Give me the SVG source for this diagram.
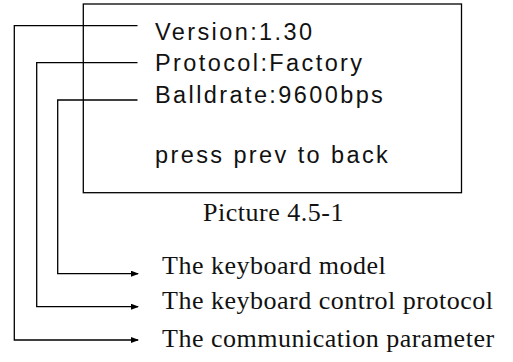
<svg xmlns="http://www.w3.org/2000/svg" width="513" height="362" viewBox="0 0 513 362">
<style>
.ln{fill:none;stroke:#000;stroke-width:1.3}
.sans{font-family:"Liberation Sans",Arial,sans-serif;font-size:23.5px;letter-spacing:2.4px;fill:#111}
.serif{font-family:"Liberation Serif","Times New Roman",serif;font-size:26px;letter-spacing:0.5px;fill:#111}
</style>
<defs>
<marker id="ah" markerWidth="8" markerHeight="6" refX="7" refY="3" orient="auto" markerUnits="userSpaceOnUse">
<path d="M0,0 L8,3 L0,6 Z" fill="#000"/>
</marker>
</defs>
<g id="screen">
<rect x="83.3" y="4" width="378.2" height="188.7" class="ln"/>
<text class="sans" x="155" y="40">Version:1.30</text>
<text class="sans" x="155" y="71">Protocol:Factory</text>
<text class="sans" x="155" y="103">Balldrate:9600bps</text>
<text class="sans" x="155" y="163">press prev to back</text>
</g>
<g id="caption">
<text class="serif" x="273.5" y="221" text-anchor="middle">Picture 4.5-1</text>
</g>
<g id="label-model">
<text class="serif" x="162" y="274">The keyboard model</text>
</g>
<g id="label-protocol">
<text class="serif" x="162" y="309">The keyboard control protocol</text>
</g>
<g id="label-comm">
<text class="serif" x="162" y="347">The communication parameter</text>
</g>
<g id="connectors">
<path class="ln" d="M137.5,25.7 H14.3 V340 H138" marker-end="url(#ah)"/>
<path class="ln" d="M137.5,62.7 H36.7 V306.7 H138" marker-end="url(#ah)"/>
<path class="ln" d="M137.5,100 H57.7 V273.7 H138" marker-end="url(#ah)"/>
</g>
</svg>
